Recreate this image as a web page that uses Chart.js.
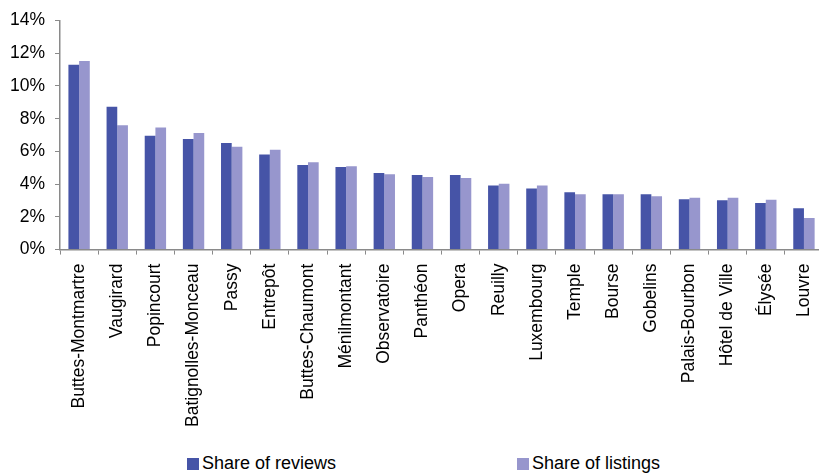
<!DOCTYPE html>
<html>
<head>
<meta charset="utf-8">
<script src="https://cdn.jsdelivr.net/npm/chart.js@4.4.1/dist/chart.umd.min.js"></script>
<style>
  html, body { margin: 0; padding: 0; background: #fff; overflow: hidden; width: 819px; height: 475px; }
  #wrap { position: absolute; left: 0; top: 0; width: 834px; height: 436px; }
  .leg { position: absolute; top: 453px; font-family: "Liberation Sans", Arial, sans-serif; font-size: 18px; color: #000; white-space: nowrap; }
  .leg i { display: inline-block; width: 12px; height: 12px; margin-right: 3px; vertical-align: -1px; }
</style>
</head>
<body>
<div id="wrap"><canvas id="chart"></canvas></div>
<div id="legend"></div>
<script>
  // arrondissements, sorted by share of reviews
  const districts = ["Buttes-Montmartre", "Vaugirard", "Popincourt", "Batignolles-Monceau", "Passy",
    "Entrepôt", "Buttes-Chaumont", "Ménilmontant", "Observatoire", "Panthéon", "Opera", "Reuilly",
    "Luxembourg", "Temple", "Bourse", "Gobelins", "Palais-Bourbon", "Hôtel de Ville", "Élysée", "Louvre"];

  // values in %
  const shareReviews = [11.3, 8.73, 6.96, 6.76, 6.52, 5.81, 5.17, 5.05, 4.68, 4.56, 4.56, 3.92,
    3.73, 3.5, 3.38, 3.38, 3.08, 3.02, 2.85, 2.53];
  const shareListings = [11.53, 7.6, 7.46, 7.12, 6.29, 6.1, 5.33, 5.09, 4.6, 4.44, 4.38, 4.02,
    3.92, 3.38, 3.38, 3.26, 3.17, 3.17, 3.05, 1.93];

  const yTicks = [0, 2, 4, 6, 8, 10, 12, 14];

  const axisGray = "#8a8a8a";
  const fontFamily = "'Liberation Sans', Arial, sans-serif";

  const chart = new Chart(document.getElementById("chart"), {
    type: "bar",
    data: {
      labels: districts,
      datasets: [
        { label: "Share of reviews", data: shareReviews, backgroundColor: "#4654a7",
          categoryPercentage: 0.56, barPercentage: 1.0 },
        { label: "Share of listings", data: shareListings, backgroundColor: "#9796cd",
          categoryPercentage: 0.56, barPercentage: 1.0 }
      ]
    },
    options: {
      responsive: true,
      maintainAspectRatio: false,
      animation: false,
      layout: { padding: { left: 0, top: 5, right: 2, bottom: 0 } },
      plugins: { legend: { display: false }, tooltip: { enabled: false } },
      scales: {
        x: {
          grid: { display: true, drawOnChartArea: false, tickLength: 5, color: axisGray },
          border: { color: axisGray, width: 1.5 },
          ticks: {
            color: "#000", maxRotation: 90, minRotation: 90, autoSkip: false, padding: 9,
            font: { family: fontFamily, size: 17.5 }
          }
        },
        y: {
          min: yTicks[0],
          max: yTicks[yTicks.length - 1],
          afterBuildTicks: (axis) => { axis.ticks = yTicks.map(v => ({ value: v })); },
          grid: { display: true, drawOnChartArea: false, tickLength: 5, color: axisGray },
          border: { color: axisGray, width: 1.5 },
          ticks: {
            color: "#000", padding: 10,
            font: { family: fontFamily, size: 17.5 },
            callback: (v) => v + "%"
          }
        }
      }
    }
  });

  // legend below the chart, built from the datasets
  const legendX = [187, 517];
  const legend = document.getElementById("legend");
  chart.data.datasets.forEach((ds, i) => {
    const item = document.createElement("div");
    item.className = "leg";
    item.style.left = legendX[i] + "px";
    item.innerHTML = '<i style="background:' + ds.backgroundColor + '"></i>' + ds.label;
    legend.appendChild(item);
  });
</script>
</body>
</html>
